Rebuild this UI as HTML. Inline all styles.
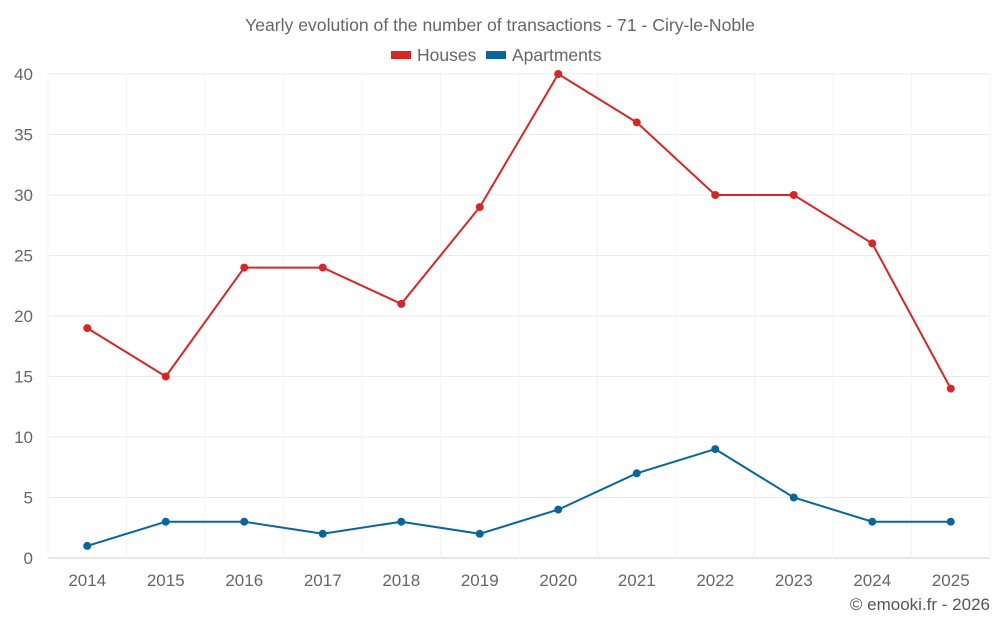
<!DOCTYPE html>
<html><head><meta charset="utf-8"><style>
body{margin:0;background:#fff;font-family:"Liberation Sans",sans-serif}
svg{display:block}
</style></head><body>
<svg id="chart" width="1000" height="625">
<text x="500" y="31" text-anchor="middle" font-size="17.6" fill="#666">Yearly evolution of the number of transactions - 71 - Ciry-le-Noble</text>
<g>
<g><rect x="391" y="51" width="20" height="8" fill="#d62728"/><text x="417" y="61" font-size="17.5" fill="#666">Houses</text></g>
<g><rect x="486" y="51" width="20" height="8" fill="#08669c"/><text x="512" y="61" font-size="17.5" fill="#666">Apartments</text></g>
</g>
<g id="grid"></g>
<g id="axes"></g>
<g id="series"></g>
<text x="990" y="610" text-anchor="end" font-size="17" fill="#555">© emooki.fr - 2026</text>
</svg>
<script>
const categories=["2014","2015","2016","2017","2018","2019","2020","2021","2022","2023","2024","2025"];
const houses=[19,15,24,24,21,29,40,36,30,30,26,14];
const apartments=[1,3,3,2,3,2,4,7,9,5,3,3];
const yTicks=[0,5,10,15,20,25,30,35,40];
const L=48,R=990,T=74,B=558,yMax=40;
const bw=(R-L)/categories.length;
const x=i=>L+bw*(i+0.5);
const y=v=>B-(v/yMax)*(B-T);
const NS="http://www.w3.org/2000/svg";
function mk(tag,attrs,parent){const e=document.createElementNS(NS,tag);for(const k in attrs)e.setAttribute(k,attrs[k]);parent.appendChild(e);return e;}
const grid=document.getElementById('grid'),axes=document.getElementById('axes'),series=document.getElementById('series');
yTicks.forEach(t=>{
  const l=mk('line',{x1:L,x2:R,y1:y(t),y2:y(t),stroke:t===0?'#ccc':'#ebebeb','stroke-width':1},grid);
  
  
  const tx=mk('text',{x:33,y:y(t)+6,'text-anchor':'end','font-size':17,fill:'#666'},axes);
  tx.textContent=t;
  
  
});
for(let i=0;i<=categories.length;i++){
  const l=mk('line',{x1:L+bw*i,x2:L+bw*i,y1:T,y2:B,stroke:'#f4f4f4','stroke-width':1},grid);
  
  
}
categories.forEach((c,i)=>{
  const tx=mk('text',{x:x(i),y:586,'text-anchor':'middle','font-size':17,fill:'#666'},axes);
  tx.textContent=c;
  
  
});
function draw(vals,color,name){
  const p=mk('polyline',{points:vals.map((v,i)=>x(i)+','+y(v)).join(' '),fill:'none',stroke:color,'stroke-width':2},series);
  
  
  vals.forEach((v,i)=>{
    const c=mk('circle',{cx:x(i),cy:y(v),r:4,fill:color},series);
    
    
  });
}
draw(houses,'#d62728','houses');
draw(apartments,'#08669c','apartments');
</script>
</body></html>
